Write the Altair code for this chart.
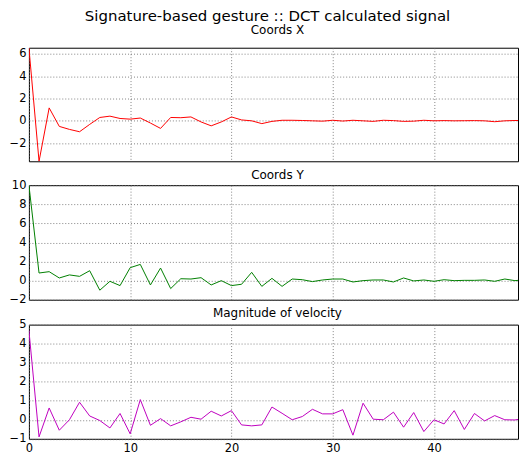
import altair as alt
import pandas as pd

idx = list(range(50))

coords_x = [6.56, -3.63, 1.16, -0.5, -0.77, -0.98, -0.32, 0.30, 0.42, 0.21,
            0.15, 0.25, -0.2, -0.68, 0.30, 0.28, 0.35, -0.1, -0.45, -0.1,
            0.35, 0.08, 0.0, -0.25, -0.05, 0.05, 0.05, 0.03, 0.0, -0.03,
            0.05, -0.02, 0.05, 0.0, -0.05, 0.05, 0.02, -0.05, -0.03, 0.05,
            0.0, 0.02, 0.0, 0.01, 0.02, 0.0, -0.08, 0.0, 0.03, 0.02]

coords_y = [10.0, 0.8, 0.94, 0.28, 0.6, 0.45, 1.04, -1.0, -0.07, -0.52,
            1.36, 1.7, -0.45, 1.32, -0.83, 0.2, 0.17, 0.31, -0.45, 0.0,
            -0.52, -0.38, 0.87, -0.6, 0.24, -0.6, 0.17, 0.1, -0.1, 0.07,
            0.17, 0.17, -0.14, 0.0, 0.07, 0.07, -0.14, 0.28, -0.03, 0.07,
            -0.07, 0.1, 0.0, 0.03, 0.03, 0.07, -0.07, 0.17, 0.0, 0.1]

velocity = [4.7, -0.9, 0.62, -0.55, 0.0, 0.92, 0.2, -0.04, -0.43, 0.33,
            -0.74, 1.06, -0.29, 0.06, -0.32, -0.11, 0.13, 0.03, 0.45, 0.2,
            0.48, -0.27, -0.32, -0.27, 0.67, 0.34, 0.0, 0.17, 0.55, 0.31,
            0.31, 0.53, -0.81, 0.87, 0.03, 0.0, 0.4, -0.39, 0.38, -0.62,
            0.0, -0.22, 0.48, -0.51, 0.33, -0.06, 0.22, 0.0, -0.01, 0.08]

x_ticks = [0, 10, 20, 30, 40]
x_domain = [0, 48.3]
panels = [
    ("Coords X", coords_x, "#ff0000", [-3.63, 6.56], [-2, 0, 2, 4, 6], 10.5, 114),
    ("Coords Y", coords_y, "#008000", [-2, 10], [-2, 0, 2, 4, 6, 8, 10], -2.5, 115),
    ("Magnitude of velocity", velocity, "#bf00bf", [-1, 5], [-1, 0, 1, 2, 3, 4, 5], -1.6, 114.6),
]

FONT = "DejaVu Sans"

charts = []
for i, (name, vals, color, dom, yt, toff, h) in enumerate(panels):
    df = pd.DataFrame({"i": idx, "v": vals})
    if i == 2:
        xaxis = alt.Axis(values=x_ticks, ticks=False, domain=False, title=None,
                         grid=True, labelPadding=4, labelFontSize=11.5, labelFlush=False)
    else:
        # invisible labels keep an equal gap below the upper panels
        xaxis = alt.Axis(values=x_ticks, ticks=False, domain=False, title=None,
                         grid=True, labelPadding=1.5, labelFontSize=5, labelOpacity=0,
                         labelFlush=False)
    c = alt.Chart(df).mark_line(color=color, strokeWidth=1, clip=True).encode(
        x=alt.X("i:Q", scale=alt.Scale(domain=x_domain, nice=False, zero=False), axis=xaxis),
        y=alt.Y("v:Q", scale=alt.Scale(domain=dom, nice=False, zero=False),
                axis=alt.Axis(values=yt, ticks=False, domain=False, title=None,
                              grid=True, labelPadding=3, labelFlush=False)),
    ).properties(
        width=491, height=h,
        title=alt.TitleParams(name, fontSize=12, font=FONT, fontWeight="normal",
                              color="black", offset=toff, anchor="middle", dx=4),
    )
    charts.append(c)

chart = alt.vconcat(*charts, spacing=0).properties(
    title=alt.TitleParams("Signature-based gesture :: DCT calculated signal",
                          fontSize=15, font=FONT, fontWeight="normal",
                          color="black", offset=0, anchor="middle", dx=4),
    padding={"left": 0, "top": 0, "right": 0, "bottom": 0},
).configure_view(stroke="black", strokeWidth=1).configure_axis(
    labelFont=FONT, labelFontSize=11.5, labelColor="black",
    gridColor="#666", gridDash=[1, 2], gridWidth=0.8,
).configure_concat(spacing=0).configure_title(
    font=FONT, fontSize=15, fontWeight="normal", color="black"
)

chart.save("out.html", embed_options={"renderer": "svg", "actions": False})
